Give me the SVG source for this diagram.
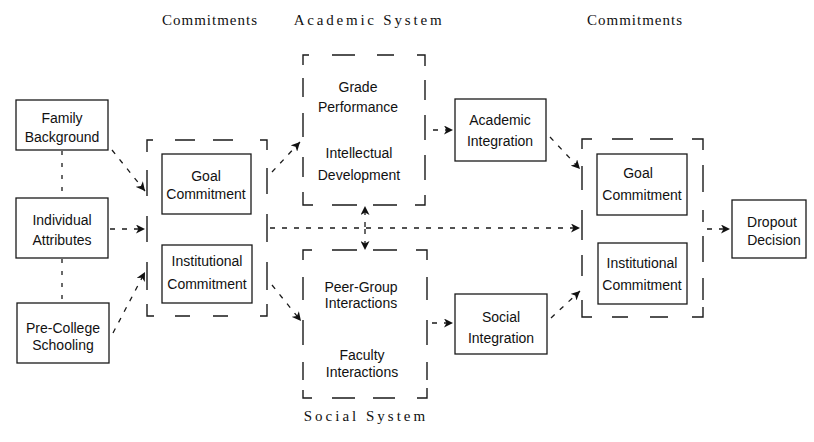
<svg xmlns="http://www.w3.org/2000/svg" width="814" height="442" viewBox="0 0 814 442">
  <defs>
    <marker id="arrow" markerUnits="userSpaceOnUse" markerWidth="10" markerHeight="9" refX="9" refY="4.5" orient="auto">
      <path d="M0,0 L9,4.5 L0,9 L2.5,4.5 z" fill="#111"/>
    </marker>
    <style>
      .box { fill: #fff; stroke: #1a1a1a; stroke-width: 1.3; }
      .group { fill: none; stroke: #1a1a1a; stroke-width: 1.4; }
      .lbl { font-family: "Liberation Sans", Arial, sans-serif; font-size: 14px; fill: #111; text-anchor: middle; }
      .hdr { font-family: "Liberation Serif", "Times New Roman", serif; font-size: 15px; fill: #111; text-anchor: middle; }
      .link { fill: none; stroke: #1a1a1a; stroke-width: 1.3; stroke-dasharray: 5 7; }
      .dot { fill: none; stroke: #1a1a1a; stroke-width: 1.3; stroke-dasharray: 4 8; }
    </style>
  </defs>

  <rect width="814" height="442" fill="#fff"/>

  <!-- column headings -->
  <g id="headings">
    <text class="hdr" x="210" y="25" letter-spacing="1">Commitments</text>
    <text class="hdr" x="369" y="25" letter-spacing="2.8">Academic System</text>
    <text class="hdr" x="635" y="25" letter-spacing="1">Commitments</text>
    <text class="hdr" x="366" y="421" letter-spacing="3">Social System</text>
  </g>

  <!-- dashed group frames -->
  <g id="commitments-left">
    <path class="group" d="M153,140 H147 V152 M175,140 H195 M213,140 H233 M260,140 H267 V150
      M147,170 V196 M147,216 V242 M147,262 V290 M147,304 V316 H154 M175,316 H190 M213,316 H228 M260,316 H267 V304
      M267,168 V194 M267,214 V242 M267,262 V290"/>
  </g>
  <g id="academic-system">
    <path class="group" d="M309,55 H303 V65 M332,55 H355 M377,55 H394 M417,55 H425 V66
      M303,78 V97 M303,113 V137 M303,157 V177 M303,192 V205 H313 M332,205 H357 M373,205 H397 M415,205 H425 V195
      M425,80 V100 M425,115 V140 M425,155 V180"/>
  </g>
  <g id="social-system">
    <path class="group" d="M303,260 V250 H312 M332,250 H357 M373,250 H397 M416,250 H427 V260
      M303,277 V300 M303,320 V345 M303,362 V380 M303,390 V398 H312 M332,398 H355 M373,398 H395 M417,398 H427 V388
      M427,277 V300 M427,320 V345 M427,362 V380"/>
  </g>
  <g id="commitments-right">
    <path class="group" d="M592,139 H582 V149 M612,139 H633 M650,139 H673 M692,139 H703 V150
      M582,166 V190 M582,210 V240 M582,255 V276 M582,300 V317 H592 M612,317 H628 M650,317 H668 M692,317 H703 V307
      M703,165 V192 M703,210 V222 M703,236 V262 M703,278 V300"/>
  </g>

  <!-- nodes -->
  <g id="family-background">
    <rect class="box" x="16" y="100" width="92" height="50"/>
    <text class="lbl" x="62" y="123">Family</text>
    <text class="lbl" x="62" y="142">Background</text>
  </g>
  <g id="individual-attributes">
    <rect class="box" x="16" y="198" width="92" height="60"/>
    <text class="lbl" x="62" y="225">Individual</text>
    <text class="lbl" x="62" y="245">Attributes</text>
  </g>
  <g id="pre-college-schooling">
    <rect class="box" x="17" y="303" width="92" height="60"/>
    <text class="lbl" x="63" y="333">Pre-College</text>
    <text class="lbl" x="63" y="350">Schooling</text>
  </g>
  <g id="goal-commitment-1">
    <rect class="box" x="162" y="154" width="89" height="60"/>
    <text class="lbl" x="206" y="181">Goal</text>
    <text class="lbl" x="206" y="199">Commitment</text>
  </g>
  <g id="institutional-commitment-1">
    <rect class="box" x="162" y="245" width="90" height="58"/>
    <text class="lbl" x="207" y="266">Institutional</text>
    <text class="lbl" x="207" y="289">Commitment</text>
  </g>
  <g id="grade-performance">
    <text class="lbl" x="358" y="92">Grade</text>
    <text class="lbl" x="358" y="112">Performance</text>
  </g>
  <g id="intellectual-development">
    <text class="lbl" x="359" y="158">Intellectual</text>
    <text class="lbl" x="359" y="180">Development</text>
  </g>
  <g id="peer-group-interactions">
    <text class="lbl" x="361" y="292">Peer-Group</text>
    <text class="lbl" x="361" y="308">Interactions</text>
  </g>
  <g id="faculty-interactions">
    <text class="lbl" x="362" y="360">Faculty</text>
    <text class="lbl" x="362" y="377">Interactions</text>
  </g>
  <g id="academic-integration">
    <rect class="box" x="455" y="99" width="91" height="62"/>
    <text class="lbl" x="500" y="125">Academic</text>
    <text class="lbl" x="500" y="146">Integration</text>
  </g>
  <g id="social-integration">
    <rect class="box" x="455" y="294" width="92" height="60"/>
    <text class="lbl" x="501" y="322">Social</text>
    <text class="lbl" x="501" y="343">Integration</text>
  </g>
  <g id="goal-commitment-2">
    <rect class="box" x="597" y="154" width="90" height="61"/>
    <text class="lbl" x="638" y="178">Goal</text>
    <text class="lbl" x="642" y="200">Commitment</text>
  </g>
  <g id="institutional-commitment-2">
    <rect class="box" x="598" y="243" width="89" height="61"/>
    <text class="lbl" x="642" y="268">Institutional</text>
    <text class="lbl" x="642" y="290">Commitment</text>
  </g>
  <g id="dropout-decision">
    <rect class="box" x="732" y="200" width="74" height="58"/>
    <text class="lbl" x="772" y="227">Dropout</text>
    <text class="lbl" x="774" y="245">Decision</text>
  </g>

  <!-- connectors -->
  <g id="connectors">
    <path class="dot" d="M62,151 V197"/>
    <path class="dot" d="M62,259 V302"/>
    <path class="link" d="M112,150 L145,191" marker-end="url(#arrow)"/>
    <path class="link" d="M110,229 L145,229" marker-end="url(#arrow)"/>
    <path class="link" d="M113,333 L145,272" marker-end="url(#arrow)"/>
    <path class="link" d="M272,172 L300,142" marker-end="url(#arrow)"/>
    <path class="link" d="M272,285 L301,321" marker-end="url(#arrow)"/>
    <path class="link" d="M270,228 L580,228" marker-end="url(#arrow)"/>
    <path class="link" d="M365,227 V206" marker-end="url(#arrow)"/>
    <path class="link" d="M365,229 V250" marker-end="url(#arrow)"/>
    <path class="link" d="M433,130 H453" marker-end="url(#arrow)"/>
    <path class="link" d="M432,323 H453" marker-end="url(#arrow)"/>
    <path class="link" d="M550,137 L580,169" marker-end="url(#arrow)"/>
    <path class="link" d="M551,318 L580,291" marker-end="url(#arrow)"/>
    <path class="link" d="M707,229 H730" marker-end="url(#arrow)"/>
  </g>
</svg>
